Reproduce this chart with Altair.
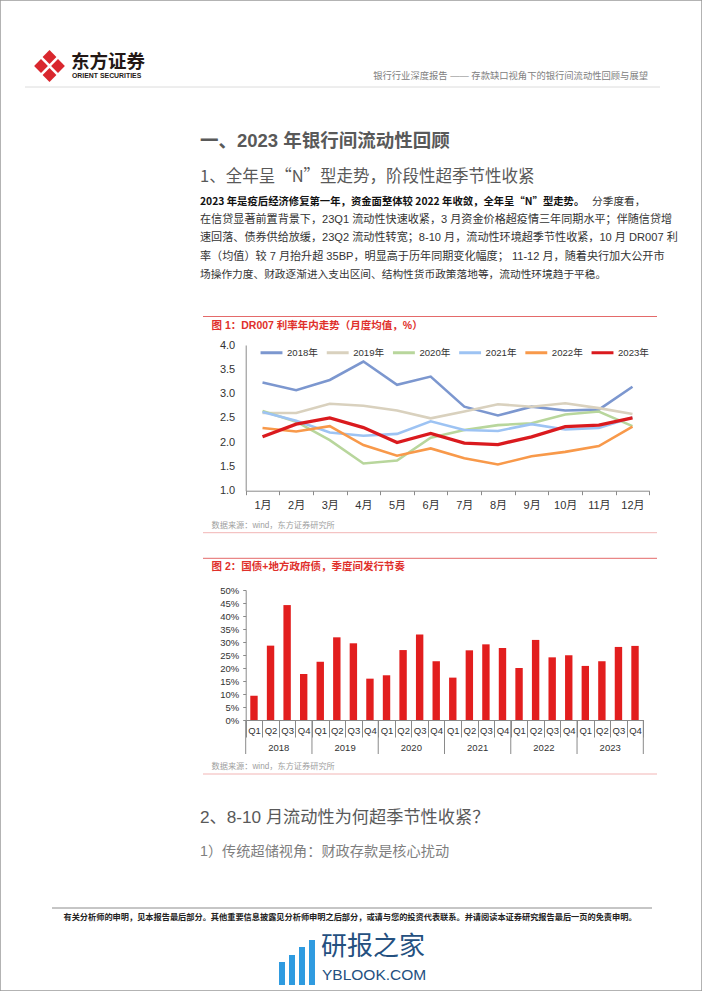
import altair as alt
import pandas as pd

FONT = "Liberation Sans, Noto Sans CJK SC"
CJK = "Noto Sans CJK SC, Liberation Sans"
W, H = 702, 991

# ---------------- data: figure 1 (DR007 monthly averages, %) ----------------
months = ["1月", "2月", "3月", "4月", "5月", "6月", "7月", "8月", "9月", "10月", "11月", "12月"]
line_years = ["2018年", "2019年", "2020年", "2021年", "2022年", "2023年"]
dr_2018 = [3.23, 3.07, 3.28, 3.66, 3.18, 3.35, 2.73, 2.55, 2.73, 2.65, 2.67, 3.14]
dr_2019 = [2.60, 2.60, 2.79, 2.75, 2.65, 2.49, 2.63, 2.78, 2.73, 2.80, 2.70, 2.58]
dr_2020 = [2.64, 2.42, 2.04, 1.56, 1.62, 2.09, 2.25, 2.35, 2.39, 2.57, 2.63, 2.33]
dr_2021 = [2.62, 2.44, 2.20, 2.13, 2.17, 2.43, 2.25, 2.23, 2.37, 2.26, 2.29, 2.51]
dr_2022 = [2.29, 2.22, 2.33, 1.94, 1.72, 1.87, 1.67, 1.54, 1.71, 1.80, 1.92, 2.32]
dr_2023 = [2.11, 2.37, 2.50, 2.30, 1.99, 2.18, 1.98, 1.95, 2.11, 2.32, 2.35, 2.50]
line_colors = ["#7C97CF", "#D9D1BE", "#B8D69C", "#9DC3F3", "#F8994A", "#DA1A1E"]
rate_ticks = [1.0, 1.5, 2.0, 2.5, 3.0, 3.5, 4.0]

# ---------------- data: figure 2 (quarterly issuance share, %) ----------------
bar_years = ["2018", "2019", "2020", "2021", "2022", "2023"]
quarters = ["Q1", "Q2", "Q3", "Q4"]
bond_share = [9.3, 28.6, 44.2, 17.7,
              22.4, 31.8, 29.5, 15.9,
              17.2, 26.9, 32.9, 22.6,
              16.3, 26.8, 29.1, 27.7,
              20.0, 30.8, 24.1, 24.9,
              20.8, 22.6, 28.1, 28.5]
share_ticks = [0, 0.05, 0.10, 0.15, 0.20, 0.25, 0.30, 0.35, 0.40, 0.45, 0.50]

# ---------------- text ----------------
header_right = "银行行业深度报告 —— 存款缺口视角下的银行间流动性回顾与展望"
h1 = "一、2023 年银行间流动性回顾"
h2 = "1、全年呈“N”型走势，阶段性超季节性收紧"
para_bold = "2023 年是疫后经济修复第一年，资金面整体较 2022 年收敛，全年呈“N”型走势。"
para_first_rest = "分季度看，"
para_lines = [
    "在信贷显著前置背景下，23Q1 流动性快速收紧，3 月资金价格超疫情三年同期水平；伴随信贷增",
    "速回落、债券供给放缓，23Q2 流动性转宽；8-10 月，流动性环境超季节性收紧，10 月 DR007 利",
    "率（均值）较 7 月抬升超 35BP，明显高于历年同期变化幅度； 11-12 月，随着央行加大公开市",
    "场操作力度、财政逐渐进入支出区间、结构性货币政策落地等，流动性环境趋于平稳。",
]
fig1_title = "图 1：DR007 利率年内走势（月度均值，%）"
fig2_title = "图 2：国债+地方政府债，季度间发行节奏"
source = "数据来源：wind，东方证券研究所"
h3 = "2、8-10 月流动性为何超季节性收紧？"
h4 = "1）传统超储视角：财政存款是核心扰动"
footer = "有关分析师的申明，见本报告最后部分。其他重要信息披露见分析师申明之后部分，或请与您的投资代表联系。并请阅读本证券研究报告最后一页的免责申明。"

AX = "#8a8a8a"

# ---------------- figure 1 ----------------
rows = []
for yr, vals in zip(line_years, [dr_2018, dr_2019, dr_2020, dr_2021, dr_2022, dr_2023]):
    for i, (m, v) in enumerate(zip(months, vals)):
        rows.append({"year": yr, "month": m, "mi": i, "rate": v})
df_line = pd.DataFrame(rows)

LX0, LX1 = 245.7, 649.3
LY0, LY1 = 490.7, 345.0

line_chart = alt.Chart(df_line).mark_line(strokeJoin="miter").encode(
    x=alt.X("month:N", sort=months,
            scale=alt.Scale(type="band", domain=months, range=[LX0, LX1], paddingInner=0, paddingOuter=0),
            axis=alt.Axis(orient="bottom", offset=LY0 - H, title=None, tickBand="extent", tickSize=4,
                          labelPadding=5, labelAngle=0, labelFontSize=11, labelColor="#333",
                          domainColor=AX, tickColor=AX, grid=False, labelOverlap=False)),
    y=alt.Y("rate:Q",
            scale=alt.Scale(domain=[1, 4], range=[LY0, LY1], zero=False, nice=False),
            axis=alt.Axis(orient="left", offset=-LX0, title=None, values=rate_ticks, format=".1f",
                          ticks=False, labelPadding=11, labelFontSize=11, labelColor="#333",
                          domainColor=AX, grid=False)),
    color=alt.Color("year:N", scale=alt.Scale(domain=line_years, range=line_colors),
                    legend=alt.Legend(orient="none", legendX=259, legendY=340, direction="horizontal",
                                      title=None, symbolType="stroke", symbolStrokeWidth=3,
                                      symbolSize=480, labelFontSize=9.6, labelColor="#333",
                                      labelOffset=3, columnPadding=2.2, padding=0)),
    strokeWidth=alt.condition(alt.datum.year == "2023年", alt.value(3.3), alt.value(2.6)),
    order=alt.Order("mi:Q"),
)

# ---------------- figure 2 ----------------
keys = [y + q for y in bar_years for q in quarters]
df_bar = pd.DataFrame({"key": keys, "share": [v / 100 for v in bond_share]})
df_years = pd.DataFrame({"year": bar_years,
                         "start": [y + "Q1" for y in bar_years],
                         "mid": [y + "Q3" for y in bar_years]})
df_end = pd.DataFrame({"end": [bar_years[-1] + "Q4"]})

BX0, BX1 = 245.7, 643.3
BY0, BY1 = 720.0, 590.0

bars = alt.Chart(df_bar).mark_bar(size=7.4, color="#E21E1E").encode(
    x=alt.X("key:N", sort=keys,
            scale=alt.Scale(type="band", domain=keys, range=[BX0, BX1], paddingInner=0, paddingOuter=0),
            axis=alt.Axis(orient="bottom", offset=BY0 - H, title=None, tickBand="extent", tickSize=17,
                          labelPadding=-12, labelAngle=0, labelFontSize=9.5, labelColor="#333",
                          labelExpr="substring(datum.label, 4, 6)", domainColor=AX, tickColor=AX,
                          grid=False, labelOverlap=False)),
    y=alt.Y("share:Q",
            scale=alt.Scale(domain=[0, 0.5], range=[BY0, BY1], nice=False),
            axis=alt.Axis(orient="left", offset=-BX0, title=None, values=share_ticks, format=".0%",
                          tickSize=3, labelPadding=4, labelFontSize=9.5, labelColor="#333",
                          domainColor=AX, tickColor=AX, grid=False)),
)
dividers = alt.Chart(df_years).mark_rule(color=AX, strokeWidth=1).encode(
    x=alt.X("start:N", bandPosition=0), y=alt.value(BY0), y2=alt.value(754))
end_divider = alt.Chart(df_end).mark_rule(color=AX, strokeWidth=1).encode(
    x=alt.X("end:N", bandPosition=1), y=alt.value(BY0), y2=alt.value(754))
year_text = alt.Chart(df_years).mark_text(fontSize=9.5, color="#333", font=FONT, baseline="middle").encode(
    x=alt.X("mid:N", bandPosition=0), y=alt.value(748), text="year:N")

bar_layer = alt.layer(bars, dividers, end_divider, year_text)


# ---------------- page decorations ----------------
def txt(s, x, y, size, color="#333", weight="normal", align="left", font=FONT):
    return alt.Chart(pd.DataFrame({"t": [s]})).mark_text(
        align=align, baseline="middle", fontSize=size, color=color, fontWeight=weight, font=font
    ).encode(x=alt.value(x), y=alt.value(y), text="t:N")


def hline(x1, x2, y, color, w=1.0):
    return alt.Chart(pd.DataFrame({"a": [0]})).mark_rule(color=color, strokeWidth=w).encode(
        x=alt.value(x1), x2=alt.value(x2), y=alt.value(y))


def diamond(x, y, size, color):
    return alt.Chart(pd.DataFrame({"a": [0]})).mark_point(
        shape="diamond", filled=True, color=color, opacity=1, size=size, strokeWidth=0
    ).encode(x=alt.value(x), y=alt.value(y))


def box(x1, x2, y1, y2, color):
    return alt.Chart(pd.DataFrame({"a": [0]})).mark_rect(color=color).encode(
        x=alt.value(x1), x2=alt.value(x2), y=alt.value(y1), y2=alt.value(y2))


RED = "#D9272E"
deco = [
    # logo
    diamond(49.5, 57.0, 190, RED), diamond(41.0, 66.0, 190, RED),
    diamond(58.0, 66.0, 190, RED), diamond(49.5, 75.0, 190, RED),
    txt("东方证券", 71, 62, 18.5, "#231815", "bold"),
    txt("ORIENT SECURITIES", 72, 75.5, 6.9, "#231815", "bold"),
    txt(header_right, 648, 76, 9.3, "#808080", align="right"),
    hline(25, 660, 87, "#dcdcdc", 1),
    # headings and paragraph
    txt(h1, 200, 141, 18.5, "#595959", "bold"),
    txt(h2, 200, 177, 16.5, "#595959", font=CJK),
    txt(para_bold, 200, 201.7, 10.35, "#111", "bold", font=CJK),
    txt(para_first_rest, 592, 201.7, 10.7, "#333"),
    txt(para_lines[0], 200, 220.0, 11.1, "#333"),
    txt(para_lines[1], 200, 238.4, 11.1, "#333"),
    txt(para_lines[2], 200, 256.8, 11.1, "#333"),
    txt(para_lines[3], 200, 275.2, 10.7, "#333"),
    # figure 1 frame
    hline(203, 657, 316.5, "#E46A6A", 1),
    txt(fig1_title, 211.5, 325.5, 10.5, "#E0302B", "bold"),
    txt(source, 211.5, 525.7, 8.2, "#a0a0a0"),
    hline(203, 657, 532.7, "#F2B5B5", 1),
    # figure 2 frame
    hline(203, 657, 558.3, "#E46A6A", 1),
    txt(fig2_title, 211.5, 566.7, 10.5, "#E0302B", "bold"),
    txt(source, 211.5, 766.7, 8.2, "#a0a0a0"),
    hline(203, 657, 774, "#F2B5B5", 1),
    # section 2
    txt(h3, 200, 818, 17.2, "#595959"),
    txt(h4, 200, 852, 14.2, "#7f7f7f"),
    # footer
    hline(52, 652, 908, "#8c8c8c", 1),
    txt(footer, 350, 917.5, 8.2, "#222", "bold", align="center"),
    # watermark
    box(279, 285, 962, 985, "#2F9BE0"), box(289, 295, 955, 985, "#2F9BE0"),
    box(299, 305, 947, 985, "#2F9BE0"), box(309, 315, 940, 985, "#2F9BE0"),
    txt("研报之家", 321, 947, 26, "#24507F"),
    txt("YBLOOK.COM", 322, 975, 15.5, "#24507F"),
]

chart = alt.layer(line_chart, bar_layer, *deco).resolve_scale(
    x="independent", y="independent", color="independent"
).properties(
    width=W, height=H, padding=0, autosize=alt.AutoSizeParams(type="none"),
    background="white",
).configure_view(stroke="#9a9a9a", strokeWidth=1.5).configure_axis(
    labelFont=FONT
).configure_legend(labelFont=FONT)

chart.save("out.html", embed_options={"renderer": "svg", "actions": False})
